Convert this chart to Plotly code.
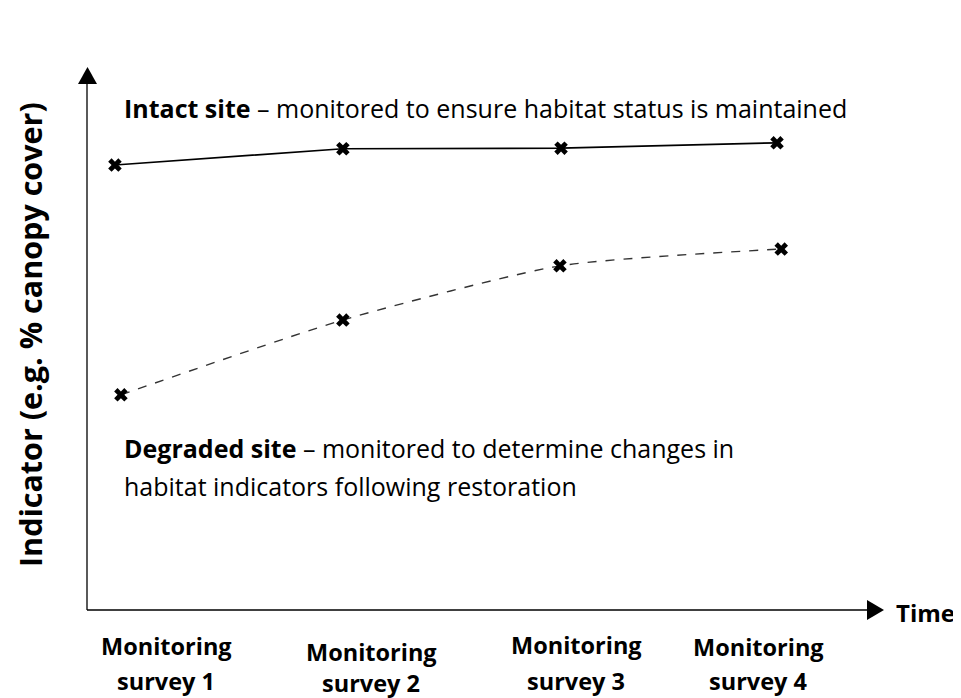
import plotly.graph_objects as go

# ---- data ----
survey_line1 = ["Monitoring", "Monitoring", "Monitoring", "Monitoring"]
survey_line2 = ["survey 1", "survey 2", "survey 3", "survey 4"]
intact_x = [1.0, 2.028, 3.012, 3.986]
intact_y = [82.1, 85.1, 85.2, 86.2]
degraded_x = [1.027, 2.028, 3.007, 4.005]
degraded_y = [39.7, 53.5, 63.5, 66.6]
y_title = "Indicator (e.g. % canopy cover)"
x_title = "Time"

OFF = 8  # default body margin of the html page
W, H = 961 - OFF, 698 - OFF
L, R, T, B = 87 - OFF, 78, 68 - OFF, 88
PW, PH = W - L - R, H - T - B

def px(x):
    return (x - OFF - L) / PW

def py(y):
    return (H - B - (y - OFF)) / PH

FONT = "Open Sans"

fig = go.Figure()
fig.add_trace(go.Scatter(
    x=intact_x, y=intact_y, mode="lines+markers",
    line=dict(color="black", width=1.7),
    marker=dict(symbol="x", size=12, color="black"),
    showlegend=False, hoverinfo="skip"))
fig.add_trace(go.Scatter(
    x=degraded_x, y=degraded_y, mode="lines+markers",
    line=dict(color="#333333", width=1.4, dash="dash", shape="spline", smoothing=0.6),
    marker=dict(symbol="x", size=12, color="black"),
    showlegend=False, hoverinfo="skip"))

shapes = [
    dict(type="line", xref="paper", yref="paper", x0=px(87), x1=px(868), y0=py(610), y1=py(610),
         line=dict(color="black", width=1.3)),
    dict(type="path", xref="paper", yref="paper",
         path=f"M {px(867)} {py(600)} L {px(884)} {py(610)} L {px(867)} {py(620)} Z",
         fillcolor="black", line=dict(color="black", width=0)),
    dict(type="line", xref="paper", yref="paper", x0=px(87), x1=px(87), y0=py(610), y1=py(82),
         line=dict(color="black", width=1.3)),
    dict(type="path", xref="paper", yref="paper",
         path=f"M {px(78)} {py(84)} L {px(87.5)} {py(67)} L {px(97)} {py(84)} Z",
         fillcolor="black", line=dict(color="black", width=0)),
]

def ann(text, x, y, size, **kw):
    d = dict(text=text, x=px(x), y=py(y), xref="paper", yref="paper", showarrow=False,
             xanchor=kw.pop("xanchor", "center"), yanchor="middle",
             font=dict(size=size, color="black", family=FONT))
    d.update(kw)
    return d

annotations = [
    ann("<b>Intact site</b> – monitored to ensure habitat status is maintained", 122, 108, 25,
        xanchor="left"),
    ann("<b>Degraded site</b> – monitored to determine changes in", 122, 448, 25, xanchor="left"),
    ann("habitat indicators following restoration", 122, 486, 25, xanchor="left"),
    ann(f"<b>{y_title}</b>", 30, 335, 30.5, textangle=-90),
    ann(f"<b>{x_title}</b>", 925, 612, 24),
]
label_x = [166, 371, 576, 758]
label_y1 = [646, 652, 645, 647]
label_y2 = [681, 683, 681, 681]
for t1, t2, lx, y1, y2 in zip(survey_line1, survey_line2, label_x, label_y1, label_y2):
    annotations.append(ann(f"<b>{t1}</b>", lx, y1, 23.5))
    annotations.append(ann(f"<b>{t2}</b>", lx, y2, 23.5))

fig.update_layout(
    width=W, height=H,
    margin=dict(l=L, r=R, t=T, b=B),
    paper_bgcolor="white", plot_bgcolor="white",
    xaxis=dict(range=[0.874, 4.464], visible=False, fixedrange=True),
    yaxis=dict(range=[0, 100], visible=False, fixedrange=True),
    shapes=shapes, annotations=annotations,
)
fig.write_html("out.html")
